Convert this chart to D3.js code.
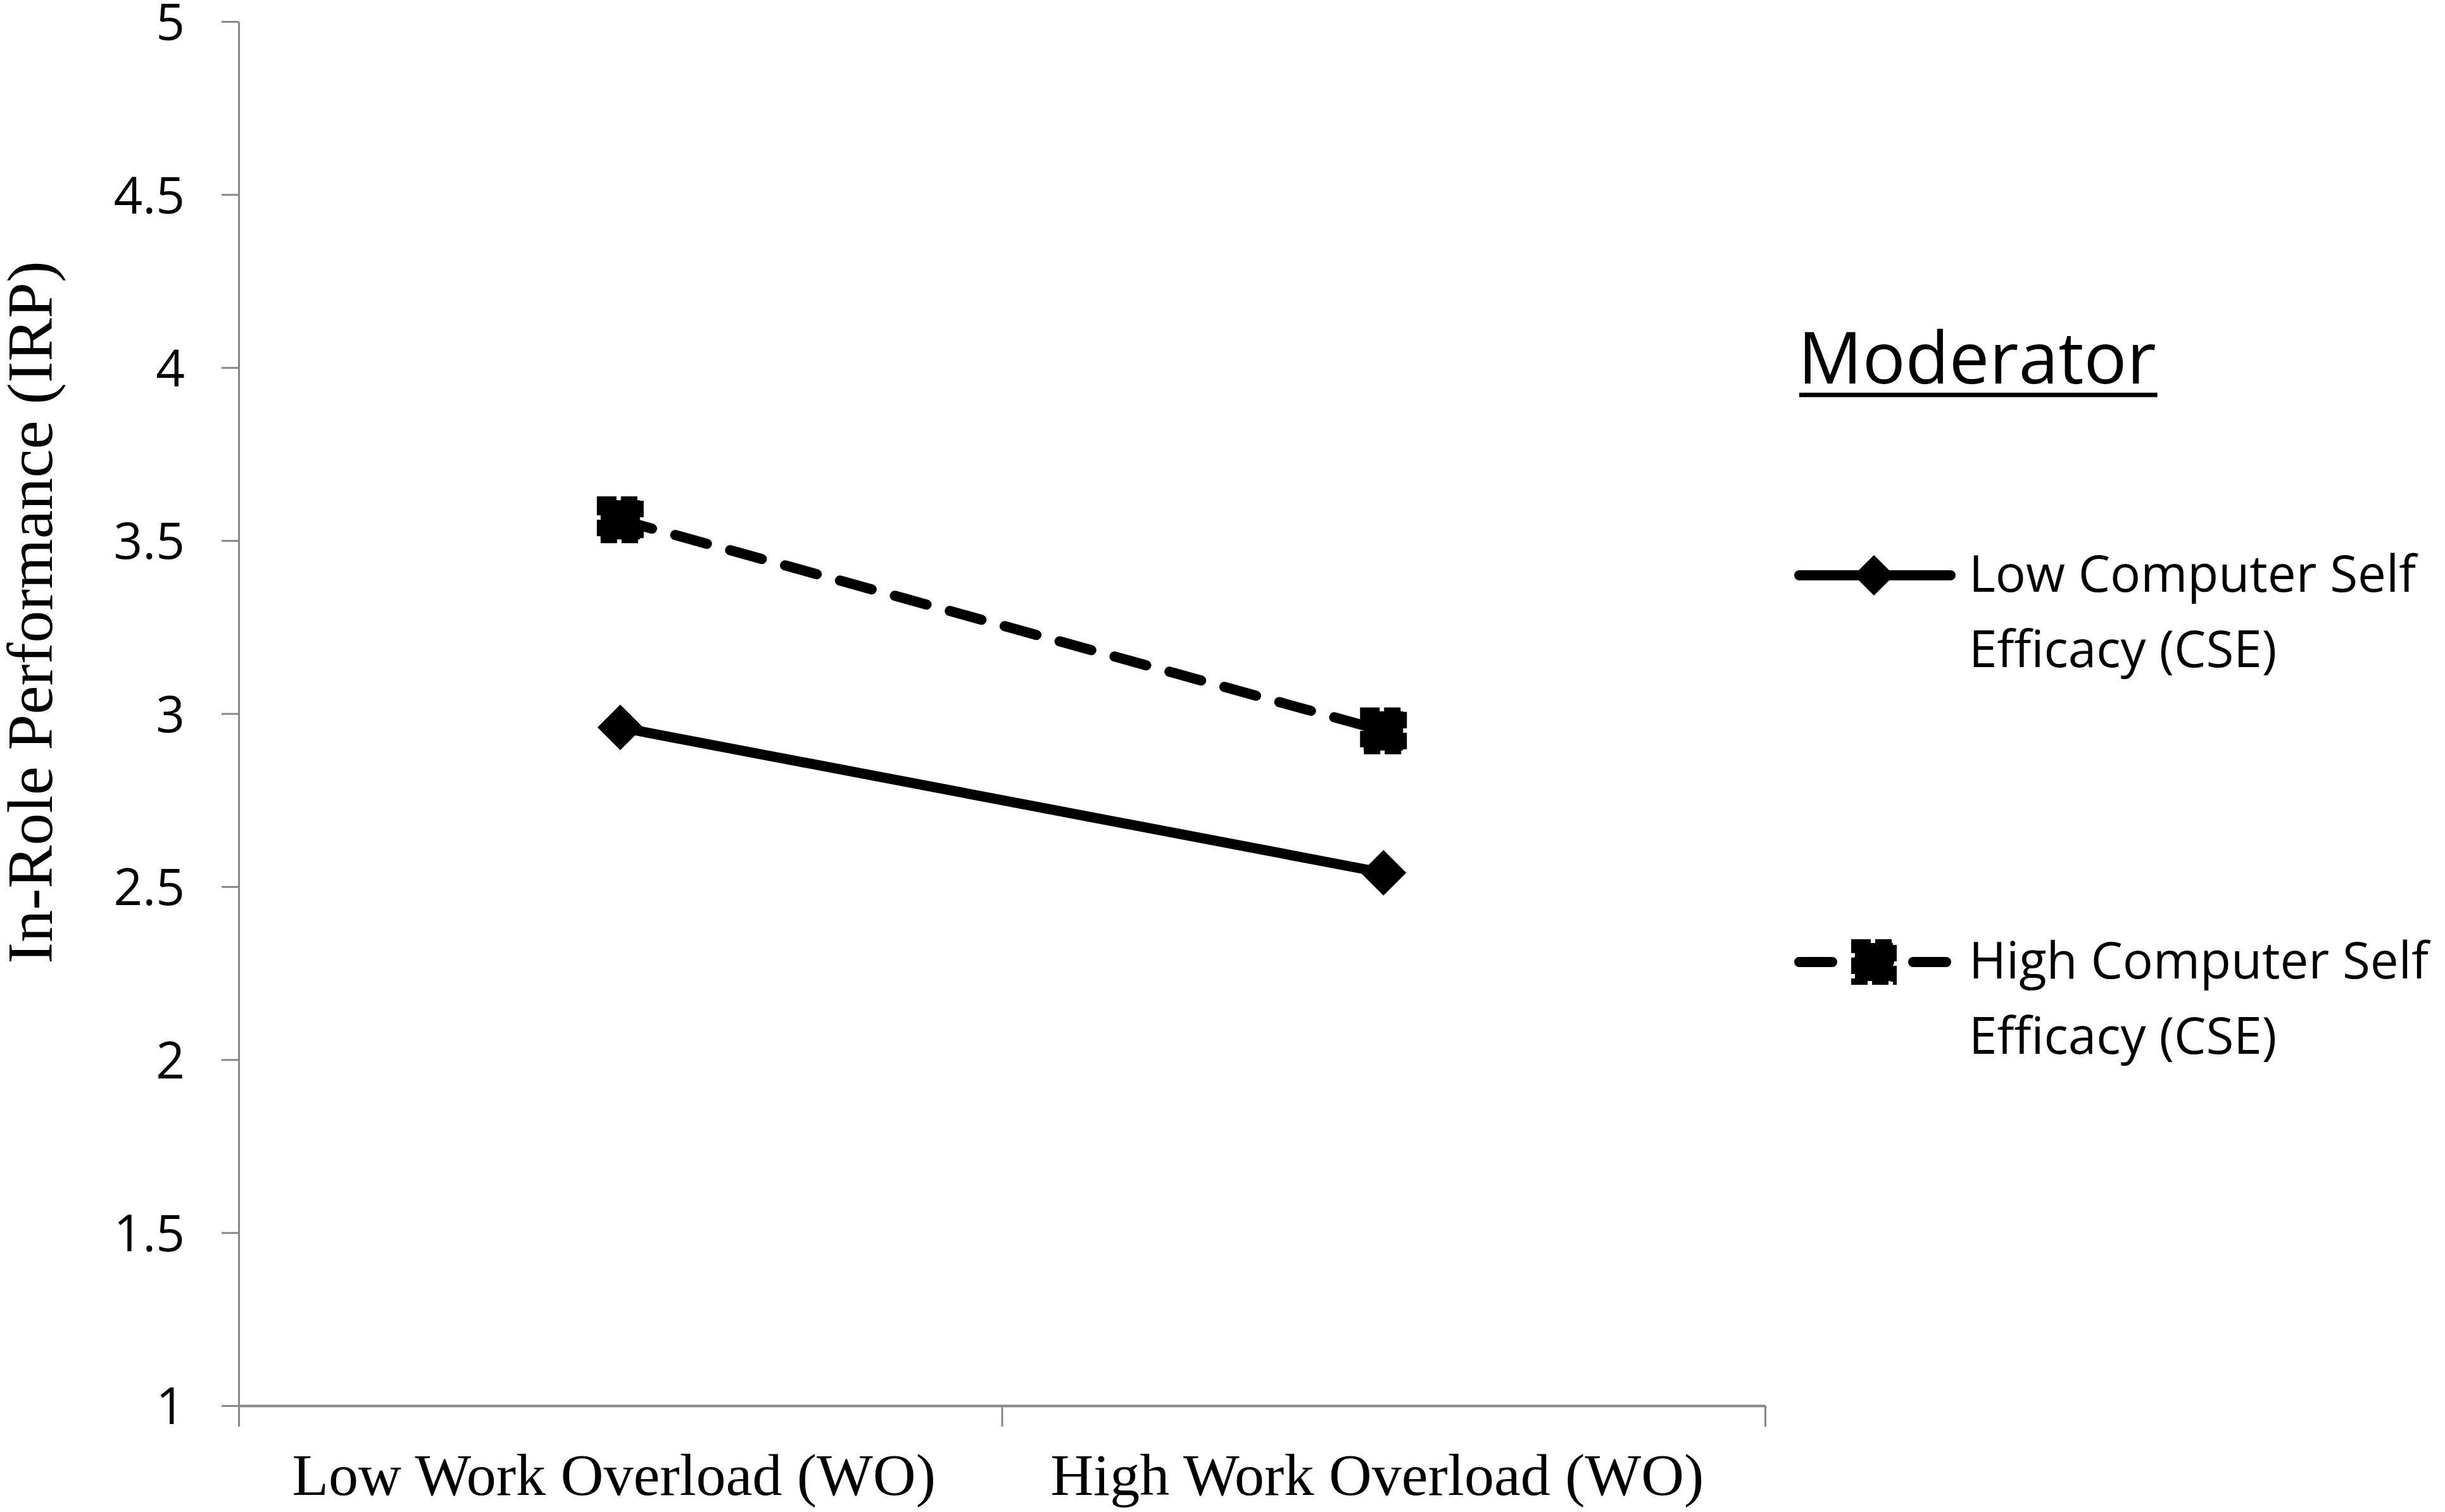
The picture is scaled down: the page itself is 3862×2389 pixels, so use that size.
<!DOCTYPE html>
<html>
<head>
<meta charset="utf-8">
<script src="https://cdn.jsdelivr.net/npm/d3@7"></script>
<style>
  html, body { margin: 0; padding: 0; background: #fff; }
  svg { display: block; }
</style>
</head>
<body>
<svg id="chart" width="3862" height="2389"></svg>
<script>
// ---- data ----
const categories = ["Low Work Overload (WO)", "High Work Overload (WO)"];
const lowCSE = [2.96, 2.54];
const highCSE = [3.56, 2.95];
const yTickValues = [1, 1.5, 2, 2.5, 3, 3.5, 4, 4.5, 5];
const yTitle = "In-Role Performance (IRP)";
const legendTitle = "Moderator";
const legendLabels = [["Low Computer Self", "Efficacy (CSE)"], ["High Computer Self", "Efficacy (CSE)"]];

// ---- layout ----
const plotLeft = 377, plotRight = 2788, plotTop = 34, plotBottom = 2221;
const axisColor = "#878787";
const sansFont = "'Open Sans', sans-serif";
const serifFont = "'Liberation Serif', 'Times New Roman', serif";

const svg = d3.select("#chart");
svg.append("rect").attr("width", 3862).attr("height", 2389).attr("fill", "#fff");

const x = d3.scaleBand().domain(categories).range([plotLeft, plotRight]).padding(0);
const xEdge = d3.scaleLinear().domain([0, categories.length]).range([plotLeft, plotRight]);
const y = d3.scaleLinear().domain([1, 5]).range([plotBottom, plotTop]);

// y axis
const yAxisG = svg.append("g").attr("transform", `translate(${plotLeft},0)`)
  .call(d3.axisLeft(y).tickValues(yTickValues).tickFormat(d3.format("")).tickSize(27).tickSizeOuter(0).tickPadding(58));
yAxisG.select(".domain").attr("stroke", axisColor).attr("stroke-width", 3);
yAxisG.selectAll(".tick line").attr("stroke", axisColor).attr("stroke-width", 3);
yAxisG.selectAll(".tick text")
  .attr("font-family", sansFont).attr("font-size", 80).attr("fill", "#000").attr("dy", "0.36em");

// x axis (ticks at category boundaries)
const xAxisG = svg.append("g").attr("transform", `translate(0,${plotBottom})`)
  .call(d3.axisBottom(xEdge).tickValues(d3.range(categories.length + 1)).tickFormat("").tickSize(33).tickSizeOuter(0));
xAxisG.select(".domain").attr("stroke", axisColor).attr("stroke-width", 4);
xAxisG.selectAll(".tick line").attr("stroke", axisColor).attr("stroke-width", 3);

// x category labels
const xLabG = svg.append("g").attr("transform", `translate(0,${plotBottom})`)
  .call(d3.axisBottom(x).tickSize(0).tickPadding(0));
xLabG.select(".domain").remove();
xLabG.selectAll(".tick text")
  .attr("font-family", serifFont).attr("font-size", 94).attr("fill", "#000")
  .attr("y", 141).attr("dy", 0).attr("dx", -10);

// y title
svg.append("text")
  .attr("transform", `translate(82,${(plotTop + plotBottom) / 2 - 160}) rotate(-90)`)
  .attr("text-anchor", "middle")
  .attr("font-family", serifFont).attr("font-size", 102).attr("fill", "#000")
  .text(yTitle);

// ---- series ----
const line = d3.line().x((d, i) => x(categories[i]) + x.bandwidth() / 2).y(d => y(d));

svg.append("path").datum(lowCSE).attr("d", line)
  .attr("fill", "none").attr("stroke", "#000").attr("stroke-width", 16);
svg.append("path").datum(highCSE).attr("d", line)
  .attr("fill", "none").attr("stroke", "#000").attr("stroke-width", 16)
  .attr("stroke-linecap", "round").attr("stroke-dasharray", "52,38");

function diamond(g, cx, cy, r) {
  g.append("path")
    .attr("d", `M${cx},${cy - r}L${cx + r},${cy}L${cx},${cy + r}L${cx - r},${cy}Z`)
    .attr("fill", "#000");
}
function square(g, cx, cy, s) {
  const h = s / 2;
  g.append("rect").attr("x", cx - h + 6).attr("y", cy - h + 6).attr("width", s - 12).attr("height", s - 12).attr("fill", "#000");
  g.append("rect").attr("x", cx - h + 5).attr("y", cy - h + 5).attr("width", s - 10).attr("height", s - 10)
    .attr("fill", "none").attr("stroke", "#000").attr("stroke-width", 10).attr("stroke-dasharray", "26,7");
}

const markG = svg.append("g");
lowCSE.forEach((v, i) => diamond(markG, x(categories[i]) + x.bandwidth() / 2, y(v), 36));
highCSE.forEach((v, i) => square(markG, x(categories[i]) + x.bandwidth() / 2, y(v), 74));

// ---- legend ----
const lg = svg.append("g");
const titleText = lg.append("text").attr("x", 2840).attr("y", 606)
  .attr("font-family", sansFont).attr("font-size", 113).attr("fill", "#000")
  .text(legendTitle);
const tw = titleText.node().getComputedTextLength();
lg.append("line").attr("x1", 2842).attr("x2", 2842 + Math.max(tw, 560)).attr("y1", 624).attr("y2", 624)
  .attr("stroke", "#000").attr("stroke-width", 7);

const entryY = [909, 1520];
const entryBase = [935, 1546];
entryY.forEach((ly, k) => {
  const p = lg.append("path").attr("d", `M2842,${ly}H3081`)
    .attr("fill", "none").attr("stroke", "#000").attr("stroke-width", 16).attr("stroke-linecap", "round");
  if (k === 1) p.attr("stroke-dasharray", "52,38");
  if (k === 0) diamond(lg, 2960, ly, 32); else square(lg, 2960, ly, 72);
  legendLabels[k].forEach((t, j) => {
    lg.append("text").attr("x", 3110).attr("y", entryBase[k] + j * 119)
      .attr("font-family", sansFont).attr("font-size", 80).attr("fill", "#000")
      .text(t);
  });
});
</script>
</body>
</html>
